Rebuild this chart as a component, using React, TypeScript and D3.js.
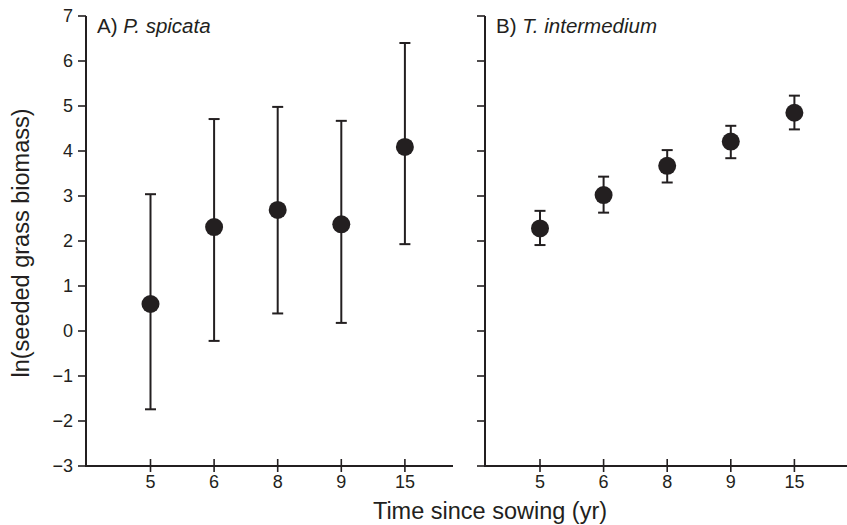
import React from "react";
import * as d3 from "d3";

const categories = ["5", "6", "8", "9", "15"];
const yTicks = [-3, -2, -1, 0, 1, 2, 3, 4, 5, 6, 7];

const spicataMean = [0.6, 2.31, 2.69, 2.37, 4.09];
const spicataLow = [-1.74, -0.22, 0.39, 0.18, 1.93];
const spicataHigh = [3.04, 4.71, 4.98, 4.67, 6.4];

const intermediumMean = [2.28, 3.02, 3.67, 4.21, 4.85];
const intermediumLow = [1.91, 2.63, 3.3, 3.84, 4.48];
const intermediumHigh = [2.67, 3.43, 4.02, 4.56, 5.23];

const INK = "#231f20";
const FONT = "'Liberation Sans', Arial, Helvetica, sans-serif";

const y = d3.scaleLinear().domain([-3, 7]).range([466, 16]);

type PanelProps = {
  axisX: number;
  firstX: number;
  endX: number;
  showLabels: boolean;
  letter: string;
  species: string;
  mean: number[];
  low: number[];
  high: number[];
};

function Panel({ axisX, firstX, endX, showLabels, letter, species, mean, low, high }: PanelProps) {
  const step = 63.6;
  const x = d3
    .scaleLinear()
    .domain([0, categories.length - 1])
    .range([firstX, firstX + step * (categories.length - 1)]);
  const cap = 5.5;
  return (
    <g>
      <line x1={axisX} x2={axisX} y1={y(7)} y2={y(-3)} stroke={INK} strokeWidth={2} />
      <line x1={axisX - 1} x2={endX} y1={y(-3)} y2={y(-3)} stroke={INK} strokeWidth={2} />
      {yTicks.map((t) => (
        <g key={t}>
          <line x1={axisX - 8} x2={axisX} y1={y(t)} y2={y(t)} stroke={INK} strokeWidth={1.6} />
          {showLabels && (
            <text
              x={axisX - 13}
              y={y(t)}
              dy="0.35em"
              textAnchor="end"
              fontSize={18}
              fontFamily={FONT}
              fill={INK}
            >
              {t < 0 ? "\u2212" + Math.abs(t) : String(t)}
            </text>
          )}
        </g>
      ))}
      {categories.map((c, i) => (
        <g key={c}>
          <line x1={x(i)} x2={x(i)} y1={y(-3) - 7} y2={y(-3) + 6} stroke={INK} strokeWidth={1.6} />
          <text
            x={x(i)}
            y={488}
            textAnchor="middle"
            fontSize={18}
            fontFamily={FONT}
            fill={INK}
          >
            {c}
          </text>
        </g>
      ))}
      <text x={axisX + 11} y={33} fontSize={20.5} fontFamily={FONT} fill={INK}>
        {letter}{" "}
        <tspan fontStyle="italic">{species}</tspan>
      </text>
      {categories.map((c, i) => (
        <g key={"e" + c}>
          <line x1={x(i)} x2={x(i)} y1={y(low[i])} y2={y(high[i])} stroke={INK} strokeWidth={2} />
          <line x1={x(i) - cap} x2={x(i) + cap} y1={y(low[i])} y2={y(low[i])} stroke={INK} strokeWidth={2} />
          <line x1={x(i) - cap} x2={x(i) + cap} y1={y(high[i])} y2={y(high[i])} stroke={INK} strokeWidth={2} />
          <circle cx={x(i)} cy={y(mean[i])} r={9} fill={INK} />
        </g>
      ))}
    </g>
  );
}

export default function App() {
  return (
    <svg
      width={847}
      height={525}
      style={{ position: "absolute", left: 0, top: 0, background: "#fff" }}
    >
      <rect width={847} height={525} fill="#fff" />
      <Panel
        axisX={86}
        firstX={150.5}
        endX={453}
        showLabels={true}
        letter="A)"
        species="P. spicata"
        mean={spicataMean}
        low={spicataLow}
        high={spicataHigh}
      />
      <Panel
        axisX={485}
        firstX={540}
        endX={847}
        showLabels={false}
        letter="B)"
        species="T. intermedium"
        mean={intermediumMean}
        low={intermediumLow}
        high={intermediumHigh}
      />
      <text
        transform="translate(29,243) rotate(-90)"
        textAnchor="middle"
        fontSize={23.5}
        fontFamily={FONT}
        fill={INK}
      >
        ln(seeded grass biomass)
      </text>
      <text x={490} y={519} textAnchor="middle" fontSize={23.5} fontFamily={FONT} fill={INK}>
        Time since sowing (yr)
      </text>
    </svg>
  );
}
